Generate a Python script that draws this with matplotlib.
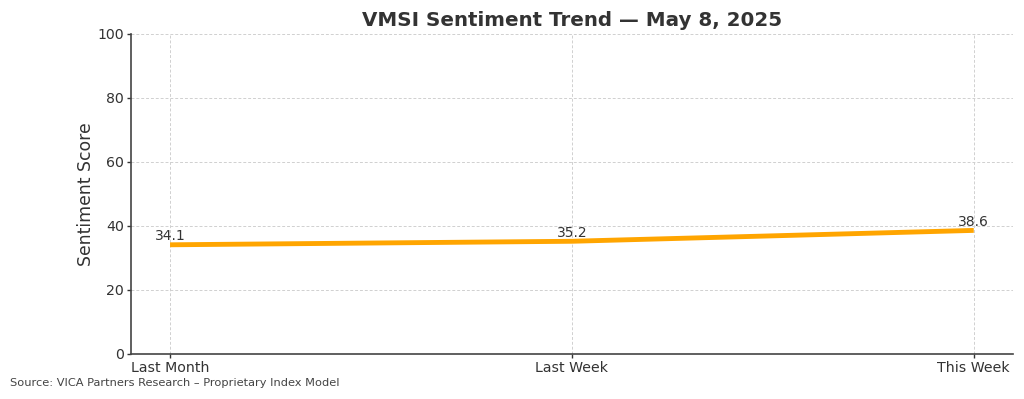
import matplotlib
matplotlib.use("Agg")
import matplotlib.pyplot as plt

categories = ["Last Month", "Last Week", "This Week"]
scores = [34.1, 35.2, 38.6]
yticks = [0, 20, 40, 60, 80, 100]

plt.rcParams['font.family'] = ['DejaVu Sans']
fig = plt.figure(figsize=(10.24, 3.99), dpi=100)
ax = fig.add_axes([0.128, 0.113, 0.861, 0.802])

x = list(range(len(categories)))
ax.plot(x, scores, color="#FFA500", linewidth=3.5, solid_capstyle="butt")
for xi, v in zip(x, scores):
    ax.annotate(f"{v}", (xi, v), xytext=(0, 1), textcoords="offset points",
                ha="center", va="bottom", fontsize=10, color="#333333")

ax.set_xticks(x)
ax.set_xticklabels(categories)
ax.set_ylim(0, 100)
ax.set_yticks(yticks)
ax.set_xlim(-0.097, 2.097)
ax.grid(True, linestyle=(0, (3, 2)), color="#d0d0d0", linewidth=0.7)
ax.set_axisbelow(True)
for s in ["top", "right"]:
    ax.spines[s].set_visible(False)
for s in ["left", "bottom"]:
    ax.spines[s].set_color("#444444")
    ax.spines[s].set_linewidth(1.2)
ax.tick_params(labelsize=10.2, colors="#333333", length=3, width=1, pad=2)
ax.set_ylabel("Sentiment Score", fontsize=12.4, color="#333333", labelpad=2)
ax.set_title("VMSI Sentiment Trend — May 8, 2025", fontsize=14.3, fontweight="bold",
             color="#333333", pad=6)
fig.text(0.01, 0.04, "Source: VICA Partners Research – Proprietary Index Model",
         fontsize=8.2, color="#444444", ha="left", va="center")
fig.savefig("out.png", dpi=100)
